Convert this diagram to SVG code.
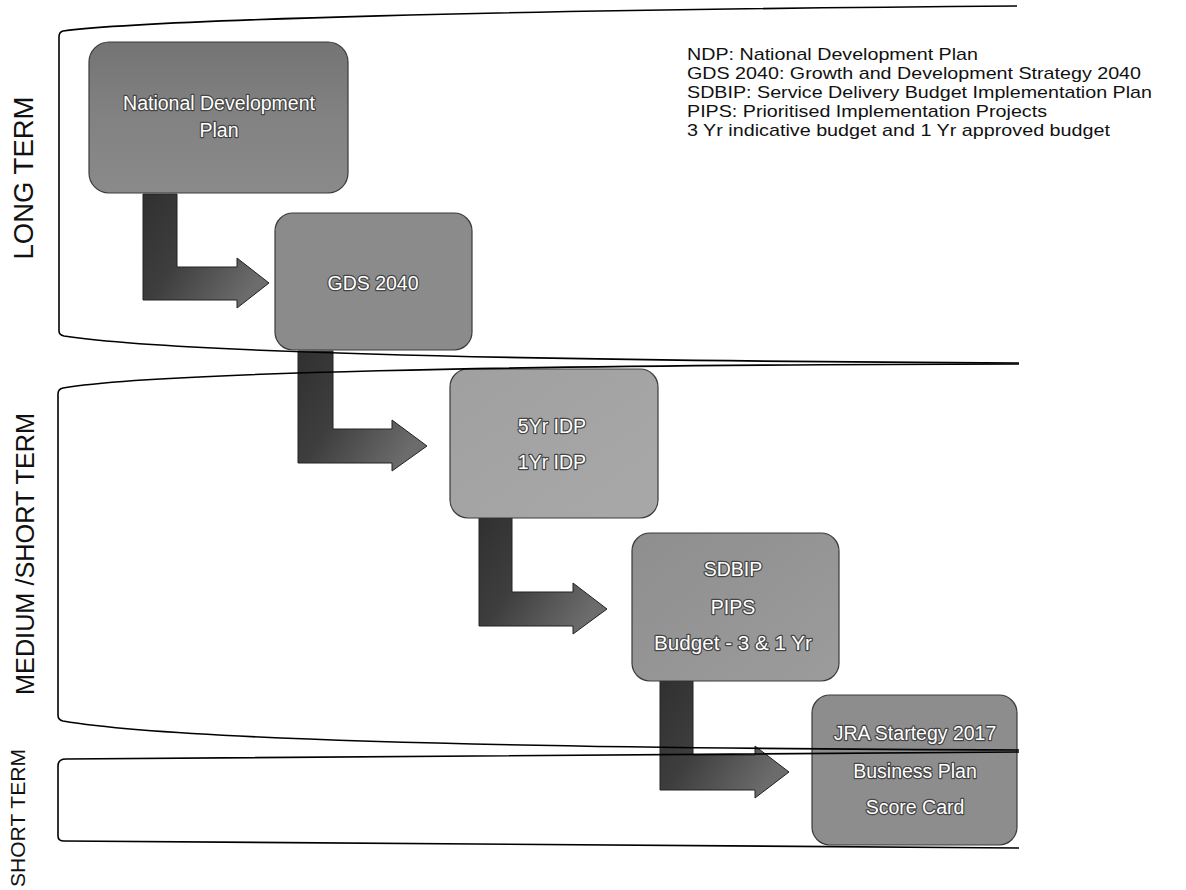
<svg xmlns="http://www.w3.org/2000/svg" width="1186" height="890" viewBox="0 0 1186 890">
<defs>
<linearGradient id="arrowGrad" x1="0" y1="0" x2="1" y2="0.6">
<stop offset="0" stop-color="#303030"/>
<stop offset="0.45" stop-color="#3e3e3e"/>
<stop offset="1" stop-color="#6c6c6c"/>
</linearGradient>
<linearGradient id="ndpGrad" x1="0" y1="0" x2="0" y2="1">
<stop offset="0" stop-color="#747474"/>
<stop offset="0.5" stop-color="#828282"/>
<stop offset="1" stop-color="#8a8a8a"/>
</linearGradient>
<linearGradient id="boxGrad" x1="0" y1="0" x2="1" y2="1">
<stop offset="0" stop-color="#8e8e8e"/>
<stop offset="1" stop-color="#9c9c9c"/>
</linearGradient>
<linearGradient id="lightGrad" x1="0" y1="0" x2="1" y2="1">
<stop offset="0" stop-color="#a0a0a0"/>
<stop offset="1" stop-color="#a8a8a8"/>
</linearGradient>
</defs>
<style>
.band{fill:none;stroke:#000;stroke-width:1.6}
.side{font-family:"Liberation Sans",Arial,sans-serif;fill:#111;text-anchor:middle}
.legend{font-family:"Liberation Sans",Arial,sans-serif;font-size:17px;fill:#111}
.box{stroke:#3a3a3a;stroke-width:1.2}
.lbl{font-family:"Liberation Sans",Arial,sans-serif;font-size:19.5px;fill:#fff;stroke:#444;stroke-width:2.4;paint-order:stroke fill;text-anchor:middle;stroke-linejoin:round}
.arrow{fill:url(#arrowGrad);stroke:#222;stroke-width:1}
</style>
<rect width="1186" height="890" fill="#fff"/>

<g id="side-labels">
<text class="side" font-size="27" textLength="163" lengthAdjust="spacingAndGlyphs" transform="translate(33,178) rotate(-90)">LONG TERM</text>
<text class="side" font-size="25" textLength="282" lengthAdjust="spacingAndGlyphs" transform="translate(34,554) rotate(-90)">MEDIUM /SHORT TERM</text>
<text class="side" font-size="21" textLength="138" lengthAdjust="spacingAndGlyphs" transform="translate(25,818) rotate(-90)">SHORT TERM</text>
</g>

<g id="legend">
<text class="legend" x="687" y="60" textLength="291" lengthAdjust="spacingAndGlyphs">NDP: National Development Plan</text>
<text class="legend" x="687" y="79" textLength="454" lengthAdjust="spacingAndGlyphs">GDS 2040: Growth and Development Strategy 2040</text>
<text class="legend" x="687" y="98" textLength="465" lengthAdjust="spacingAndGlyphs">SDBIP: Service Delivery Budget Implementation Plan</text>
<text class="legend" x="687" y="117" textLength="360" lengthAdjust="spacingAndGlyphs">PIPS: Prioritised Implementation Projects</text>
<text class="legend" x="687" y="136" textLength="423" lengthAdjust="spacingAndGlyphs">3 Yr indicative budget and 1 Yr approved budget</text>
</g>

<g id="connectors">
<polygon class="arrow" points="143,194 177,194 177,267 237,267 237,258 269,283 237,308 237,300 143,300"/>
<polygon class="arrow" points="298,351 333,351 333,429 392,429 392,420 427,446 392,471 392,463 298,463"/>
<polygon class="arrow" points="479,518 512,518 512,592 573,592 573,583 607,609 573,634 573,626 479,626"/>
<polygon class="arrow" points="660,681 693,681 693,755 755,755 755,746 789,772 755,798 755,790 660,790"/>
</g>

<g id="node-ndp">
<rect class="box" x="89" y="42" width="259" height="151" rx="20" fill="url(#ndpGrad)"/>
<text class="lbl" font-size="22" x="219" y="110">National Development</text>
<text class="lbl" font-size="22" x="219" y="137">Plan</text>
</g>

<g id="node-gds">
<rect class="box" x="275" y="213" width="197" height="137" rx="18" fill="#8b8b8b"/>
<text class="lbl" x="373" y="290">GDS 2040</text>
</g>

<g id="node-idp">
<rect class="box" x="450" y="369" width="208" height="149" rx="18" fill="url(#lightGrad)"/>
<text class="lbl" x="552" y="433">5Yr IDP</text>
<text class="lbl" x="552" y="469">1Yr IDP</text>
</g>

<g id="node-sdbip">
<rect class="box" x="632" y="533" width="207" height="148" rx="18" fill="url(#boxGrad)"/>
<text class="lbl" x="733" y="576">SDBIP</text>
<text class="lbl" x="733" y="614">PIPS</text>
<text class="lbl" x="733" y="650" textLength="158" lengthAdjust="spacingAndGlyphs">Budget - 3 &amp; 1 Yr</text>
</g>

<g id="node-jra">
<rect class="box" x="812" y="695" width="205" height="150" rx="18" fill="#8d8d8d"/>
<text class="lbl" x="915" y="740">JRA Startegy 2017</text>
<text class="lbl" x="915" y="778">Business Plan</text>
<text class="lbl" x="915" y="814">Score Card</text>
</g>

<g id="bands">
<path class="band" d="M1017,6 C 500,10 150,20 63,31 Q 59,32 59,37 L 59,331 Q 59,335 64,336 C 150,349 400,360 1019,363"/>
<path class="band" d="M1019,364 C 500,365 150,373 63,388 Q 58,389 58,394 L 58,715 Q 58,720 63,721 C 150,736 400,748 1019,750"/>
<path class="band" d="M1019,752 L 66,759 Q 58,759 58,766 L 58,836 Q 58,841 64,841 L 1019,848"/>
</g>
</svg>
